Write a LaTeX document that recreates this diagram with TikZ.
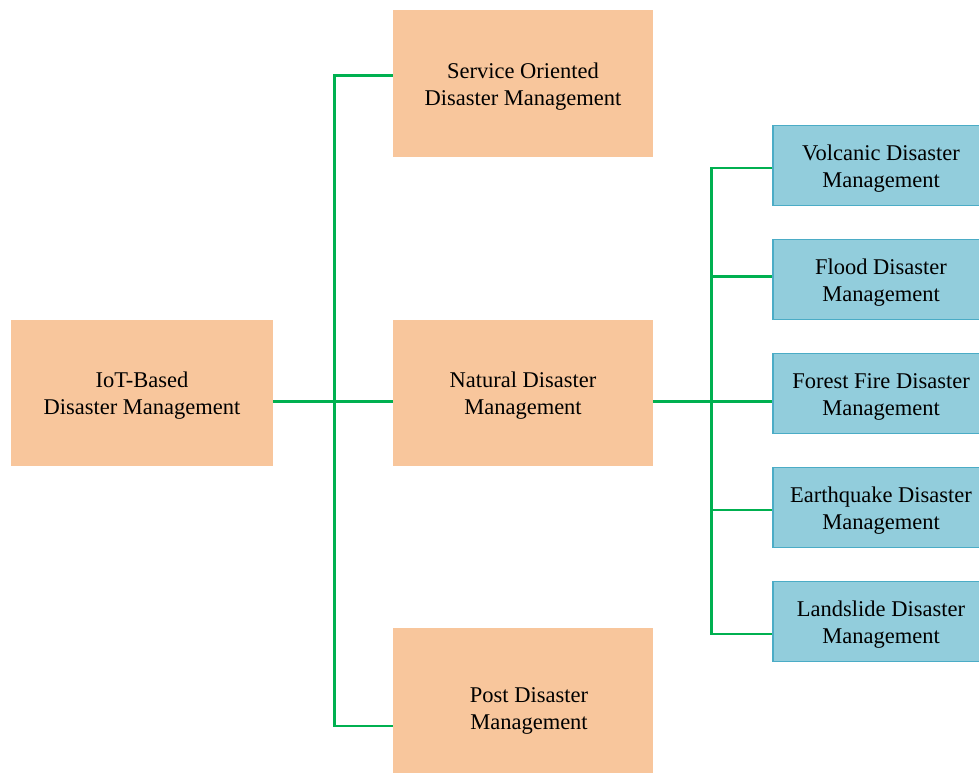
\documentclass[tikz,border=0pt]{standalone}
\usepackage{fontspec}
\setmainfont{Liberation Serif}
\definecolor{peach}{RGB}{248,198,156}
\definecolor{aqua}{RGB}{146,205,220}
\definecolor{aquaedge}{RGB}{75,172,198}
\definecolor{linkgreen}{RGB}{0,176,80}
\tikzset{
  boxtext/.style={font=\fontsize{22.5}{27}\selectfont, align=center},
  boxlabel/.style={label={[boxtext, yshift=-3pt]center:#1}},
  mainbox/.style={fill=peach, draw=none, minimum width=260pt, inner sep=0pt},
  subbox/.style={fill=aqua, draw=aquaedge, line width=1.4pt, minimum width=216pt,
    minimum height=80pt, inner sep=0pt},
  link/.style={draw=linkgreen, line width=2.6pt}
}
\begin{document}
\begin{tikzpicture}[x=1pt, y=-1pt]
\useasboundingbox (0,0) rectangle (979,774);

% first level
\node[mainbox, minimum width=262pt, minimum height=146pt,
  boxlabel={IoT-Based\\Disaster Management}] (iot) at (142,393) {};
\node[mainbox, minimum height=147pt,
  boxlabel={Service Oriented\\Disaster Management}] (serv) at (523,83.5) {};
\node[mainbox, minimum height=146pt,
  boxlabel={Natural Disaster\\Management}] (nat) at (523,393) {};
\node[mainbox, minimum height=145pt,
  label={[boxtext, xshift=6pt, yshift=-10pt]center:Post Disaster\\Management}]
  (post) at (523,700.5) {};

% second level
\node[subbox, boxlabel={Volcanic Disaster\\Management}] (volc) at (881,165.5) {};
\node[subbox, boxlabel={Flood Disaster\\Management}] (flood) at (881,279.5) {};
\node[subbox, boxlabel={Forest Fire Disaster\\Management}] (fire) at (881,393.5) {};
\node[subbox, boxlabel={Earthquake Disaster\\Management}] (quake) at (881,507.5) {};
\node[subbox, boxlabel={Landslide Disaster\\Management}] (slide) at (881,621.5) {};

% trunks
\coordinate (ltrunk) at (334.7,401.7);
\coordinate (rtrunk) at (711.7,401.7);

% left tree
\draw[link] ([yshift=-8.7pt]iot.east) -- ([yshift=-8.7pt]nat.west);
\draw[link] ([yshift=7.8pt]serv.west) -| (ltrunk) |- ([yshift=-25.5pt]post.west);

% right tree
\draw[link] ([yshift=-8.7pt]nat.east) -- ([yshift=-8.2pt]fire.west);
\draw[link] ([yshift=-2.5pt]volc.west) -| (rtrunk) |- ([yshift=-12.5pt]slide.west);
\draw[link] (rtrunk |- 0,276.7) -- ([yshift=2.8pt]flood.west);
\draw[link] (rtrunk |- 0,510) -- ([yshift=-2.5pt]quake.west);
\end{tikzpicture}
\end{document}
